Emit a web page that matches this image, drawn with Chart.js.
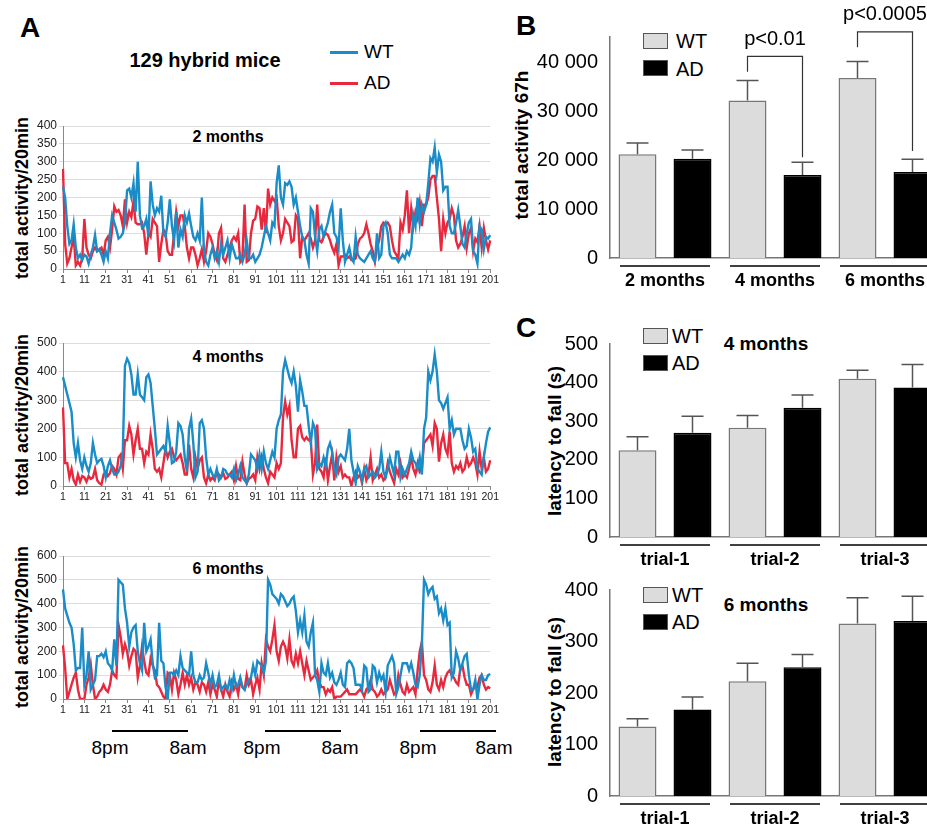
<!DOCTYPE html>
<html>
<head>
<meta charset="utf-8">
<script src="https://cdn.jsdelivr.net/npm/chart.js@4.4.1/dist/chart.umd.min.js"></script>
<style>
  html, body { margin: 0; padding: 0; background: #fff; overflow: hidden; }
  body { width: 927px; height: 832px; position: relative; font-family: 'Liberation Sans', Arial, sans-serif; }
  canvas { position: absolute; }
  .t { position: absolute; white-space: nowrap; color: #000; }
  .b { font-weight: bold; }
  .rot { transform: translate(-50%, -50%) rotate(-90deg); font-weight: bold; font-size: 17px; }
  .c { transform: translate(-50%, -50%); }
  .box { position: absolute; width: 25px; height: 16px; box-sizing: border-box; border: 1px solid #555; }
  .hl { position: absolute; height: 1.5px; background: #000; }
  .narrow { font-family: 'Liberation Sans Narrow', 'Liberation Sans', Arial, sans-serif; }
</style>
</head>
<body>
<div class="t b" style="left:20px;top:12px;font-size:28px;">A</div>
<div class="t b c" style="left:205px;top:60px;font-size:20px;">129 hybrid mice</div>
<div class="hl" style="left:330px;top:51px;width:28px;height:3px;background:#1a8cc8"></div>
<div class="t" style="left:364px;top:41px;font-size:19px;">WT</div>
<div class="hl" style="left:330px;top:82px;width:28px;height:3px;background:#e8293d"></div>
<div class="t" style="left:364px;top:72px;font-size:19px;">AD</div>

<div class="t rot" style="left:22px;top:198px;font-size:18px;">total activity/20min</div>
<div class="t rot" style="left:22px;top:415px;font-size:18px;">total activity/20min</div>
<div class="t rot" style="left:22px;top:627px;font-size:18px;">total activity/20min</div>
<div class="t b c" style="left:228px;top:137px;font-size:16px;">2 months</div>
<div class="t b c" style="left:228px;top:357px;font-size:16px;">4 months</div>
<div class="t b c" style="left:228px;top:569px;font-size:16px;">6 months</div>

<div class="hl" style="left:112px;top:730px;width:76px;"></div>
<div class="hl" style="left:265px;top:730px;width:76px;"></div>
<div class="hl" style="left:420px;top:730px;width:76px;"></div>
<div class="t c narrow" style="left:110px;top:748px;font-size:19px;">8pm</div>
<div class="t c narrow" style="left:188px;top:748px;font-size:19px;">8am</div>
<div class="t c narrow" style="left:262px;top:748px;font-size:19px;">8pm</div>
<div class="t c narrow" style="left:340px;top:748px;font-size:19px;">8am</div>
<div class="t c narrow" style="left:418px;top:748px;font-size:19px;">8pm</div>
<div class="t c narrow" style="left:494px;top:748px;font-size:19px;">8am</div>

<div class="t b" style="left:516px;top:10px;font-size:28px;">B</div>
<div class="t rot" style="left:522px;top:145px;font-size:19px;">total activity 67h</div>
<div class="box" style="left:643px;top:33px;background:#dcdcdc"></div>
<div class="t narrow" style="left:676px;top:30px;font-size:20px;">WT</div>
<div class="box" style="left:643px;top:60px;background:#000"></div>
<div class="t narrow" style="left:676px;top:58px;font-size:20px;">AD</div>

<div class="t b" style="left:516px;top:312px;font-size:28px;">C</div>
<div class="t rot" style="left:555px;top:441px;font-size:19px;">latency to fall (s)</div>
<div class="box" style="left:643px;top:328px;background:#dcdcdc"></div>
<div class="t narrow" style="left:672px;top:325px;font-size:20px;">WT</div>
<div class="box" style="left:643px;top:355px;background:#000"></div>
<div class="t narrow" style="left:672px;top:352px;font-size:20px;">AD</div>
<div class="t b c narrow" style="left:766px;top:344px;font-size:19px;">4 months</div>

<div class="t rot" style="left:555px;top:692px;font-size:19px;">latency to fall (s)</div>
<div class="box" style="left:643px;top:587px;background:#dcdcdc"></div>
<div class="t narrow" style="left:672px;top:584px;font-size:20px;">WT</div>
<div class="box" style="left:643px;top:614px;background:#000"></div>
<div class="t narrow" style="left:672px;top:611px;font-size:20px;">AD</div>
<div class="t b c narrow" style="left:766px;top:605px;font-size:19px;">6 months</div>

<canvas id="a1" style="left:0;top:110px;width:500px;height:179px"></canvas>
<canvas id="a2" style="left:0;top:330px;width:500px;height:176px"></canvas>
<canvas id="a3" style="left:0;top:540px;width:500px;height:179px"></canvas>
<canvas id="b1" style="left:510px;top:0;width:430px;height:294px"></canvas>
<canvas id="c1" style="left:510px;top:310px;width:430px;height:263px"></canvas>
<canvas id="c2" style="left:510px;top:570px;width:430px;height:262px"></canvas>

<script>
// ---- data: activity per 20 min, points 1..201
const wt2 = [230,200,120,70,80,125,60,30,40,25, 40,35,15,40,60,95,50,55,40,20, 50,30,100,150,130,110,85,90,100,130,
  220,225,200,240,160,300,150,115,120,140, 90,245,180,150,170,160,205,100,90,130, 195,120,80,160,60,110,90,150,130,155,
  120,90,80,100,80,200,50,20,10,40, 60,30,50,20,70,40,60,80,30,70, 50,30,30,40,20,40,80,30,30,40,
  20,30,40,60,90,120,100,80,130,120, 240,290,200,180,240,235,245,230,180,200, 160,120,90,80,40,15,170,160,90,50,
  110,120,90,110,130,160,180,100,90,60, 170,80,20,40,60,30,20,90,40,30, 25,20,30,40,50,30,20,100,30,40,
  120,130,100,40,30,30,30,20,30,40, 30,50,40,60,150,120,200,130,180,160, 180,240,310,300,340,270,320,300,220,230,
  230,120,100,100,130,165,120,70,60,100, 130,140,50,40,15,120,110,55,90,85,95]
const ad2 = [280,70,15,30,60,90,10,20,10,30, 140,60,40,30,50,60,50,55,60,40, 80,90,60,110,175,160,165,150,120,195,
  130,160,145,190,130,125,125,130,100,40, 100,90,140,130,120,20,70,110,100,50, 40,40,100,160,120,150,150,120,60,30,
  60,60,40,10,30,55,20,50,100,90, 70,40,25,100,115,30,20,40,60,80, 90,80,100,20,30,180,20,25,100,135,
  140,175,170,110,170,100,225,180,200,190, 200,120,80,100,140,130,120,75,80,150, 140,30,90,80,90,100,85,60,80,180,
  80,75,90,100,95,80,60,45,70,10, 35,35,40,30,35,25,25,30,70,85, 90,100,125,100,70,50,20,60,80,120,
  130,125,130,120,80,50,40,30,130,110, 150,220,100,170,120,160,140,185,120,180, 180,200,250,260,260,200,140,50,140,100,
  130,140,170,150,80,60,70,90,120,60, 100,115,50,85,75,120,60,115,80,55,80]
const wt4 = [380,350,320,290,260,150,100,150,90,60, 100,70,50,80,150,110,80,90,95,70, 30,70,90,60,40,40,50,70,120,420,
  445,430,390,320,320,390,320,310,300,380, 390,360,280,200,110,120,130,140,120,210, 150,80,85,120,220,210,180,100,50,200,
  235,150,30,50,220,230,200,100,40,60, 40,30,60,20,30,60,55,40,40,30, 60,20,40,70,30,20,10,40,110,100,
  90,60,110,60,120,80,60,90,120,100, 200,230,250,400,440,410,380,360,400,350, 260,370,330,280,280,210,150,220,200,60,
  80,70,100,70,130,150,120,60,40,100, 110,100,90,130,200,90,50,10,70,50, 20,60,70,30,40,50,30,40,60,120,
  50,30,60,100,70,40,120,120,30,60, 40,60,80,120,90,80,60,100,40,200, 240,400,370,400,460,400,300,290,270,290,
  310,200,230,180,200,200,200,160,130,140, 200,170,120,130,60,50,40,100,150,190,205]
const ad4 = [275,80,80,30,60,20,5,40,15,35, 30,15,35,25,30,60,20,10,5,40, 50,35,45,70,60,40,100,110,60,160,
  160,210,180,110,160,200,130,130,80,120, 110,180,130,60,50,60,30,80,130,100, 120,130,100,90,100,110,80,40,40,145,
  60,30,100,60,90,100,30,10,40,20, 30,20,50,40,30,45,25,30,40,50, 20,70,25,20,85,40,10,25,30,40,
  20,100,60,100,60,30,10,50,40,30, 80,60,80,240,295,250,280,160,100,100, 200,210,170,160,170,160,160,40,80,215,
  60,50,30,100,20,70,110,20,100,50, 70,30,40,30,30,0,30,50,30,40, 10,60,20,40,100,20,40,60,30,40,
  20,30,80,50,30,10,60,40,80,30, 40,30,60,100,60,40,80,50,60,150, 160,170,180,140,220,200,85,150,180,130,
  110,190,80,50,70,60,80,50,60,100, 70,80,100,80,40,120,60,100,50,60,90]
const wt6 = [460,380,350,320,300,230,120,130,130,300, 60,100,200,40,60,80,180,180,190,175, 200,150,140,120,250,140,500,490,480,380,
  320,220,280,300,310,200,150,120,320,200, 220,250,150,90,100,320,160,150,50,0, 110,110,100,120,100,180,130,120,110,100,
  200,100,70,70,100,80,90,150,110,60, 100,50,60,100,40,50,60,40,80,40, 100,50,60,90,50,40,60,80,90,140,
  100,160,150,140,110,160,500,480,440,430, 420,400,440,430,410,390,400,420,430,370, 280,330,280,350,240,220,280,320,100,80,
  30,150,110,100,150,90,110,70,60,80, 110,60,50,150,160,150,130,60,60,60, 40,140,130,30,40,140,130,70,110,80,
  100,30,140,160,180,150,20,50,100,150, 150,150,120,150,110,60,50,100,230,500, 480,440,460,470,420,430,360,380,330,380,
  310,320,90,110,200,170,120,150,180,190, 100,40,40,80,0,60,100,80,80,100,105]
const ad6 = [225,130,0,30,60,90,110,40,0,0, 0,60,90,145,60,0,10,30,40,60, 40,30,60,120,100,90,310,260,190,230,
  200,140,180,210,200,90,140,220,160,110, 100,170,140,120,60,50,30,10,0,110, 100,40,110,80,20,60,110,60,100,60,
  90,40,70,60,30,70,60,30,70,20, 60,40,10,80,40,10,60,30,10,70, 40,60,20,80,50,40,100,60,80,20,
  60,90,40,150,100,250,220,200,250,310, 200,160,220,240,220,170,250,160,140,190, 150,200,150,100,160,120,80,90,100,120,
  70,50,50,20,40,30,50,0,10,10, 10,20,30,40,20,20,20,20,30,40, 30,10,40,50,80,40,30,10,20,40,
  20,30,40,80,50,20,30,100,60,30, 20,60,30,40,50,20,120,200,240,100, 80,40,30,70,140,60,40,80,50,90,
  110,120,100,90,70,60,130,140,90,60, 60,20,40,60,50,90,100,60,40,50,45]

// ---- bar data
const monthCats = ['2 months', '4 months', '6 months']
const actWT = [21200, 32200, 36800]
const actWTerr = [23500, 36300, 40200]
const actAD = [20300, 17000, 17600]
const actADerr = [22100, 19600, 20200]
const actTicks = [0, 10000, 20000, 30000, 40000]
const pLabels = ['p<0.01', 'p<0.0005']
const pCats = [1, 2]
const pTop = [41250, 46250]
const pLeftEnd = [38100, 43100]
const pRightEnd = [20600, 21900]
const pTextY = [44600, 49800]

const trialCats = ['trial-1', 'trial-2', 'trial-3']
const lat4WT = [225, 283, 410]
const lat4WTerr = [260, 315, 432]
const lat4AD = [270, 335, 387]
const lat4ADerr = [313, 368, 447]
const lat4Ticks = [0, 100, 200, 300, 400, 500]
const lat6WT = [135, 223, 335]
const lat6WTerr = [150, 258, 385]
const lat6AD = [168, 250, 340]
const lat6ADerr = [192, 275, 388]
const lat6Ticks = [0, 100, 200, 300, 400]

const xLabels = wt2.map((_, i) => String(i + 1))
const BLUE = '#1a8cc8'
const RED = '#e8293d'
const NARROW = "'Liberation Sans Narrow', 'Liberation Sans', Arial, sans-serif"

function lineChart(id, wt, ad, max, step, padTop) {
  new Chart(document.getElementById(id), {
    type: 'line',
    data: {
      labels: xLabels,
      datasets: [
        { data: wt, borderColor: BLUE, borderWidth: 2.4, pointRadius: 0, tension: 0 },
        { data: ad, borderColor: RED, borderWidth: 2.4, pointRadius: 0, tension: 0 },
      ],
    },
    options: {
      responsive: false,
      animation: false,
      layout: { padding: { top: padTop, right: 6, left: 0, bottom: 0 } },
      plugins: { legend: { display: false }, tooltip: { enabled: false } },
      scales: {
        x: {
          offset: false,
          afterFit: (s) => { s.height = 20 },
          border: { color: '#888', width: 1 },
          grid: {
            drawOnChartArea: false,
            tickLength: 4,
            color: (c) => (c.index % 10 === 0 ? '#888' : 'transparent'),
          },
          ticks: {
            autoSkip: false,
            maxRotation: 0,
            padding: 1,
            color: '#222',
            font: { family: NARROW, size: 10.5 },
            callback: (v, i) => (i % 10 === 0 ? xLabels[i] : ''),
          },
        },
        y: {
          min: 0,
          max: max,
          afterFit: (s) => { s.width = 63 },
          border: { color: '#888', width: 1 },
          grid: { color: '#dcdcdc', tickLength: 4, lineWidth: 1 },
          ticks: { stepSize: step, padding: 2, color: '#222', font: { family: NARROW, size: 12 } },
        },
      },
    },
  })
}

lineChart('a1', wt2, ad2, 400, 50, 16)
lineChart('a2', wt4, ad4, 500, 100, 13)
lineChart('a3', wt6, ad6, 600, 100, 16)

// error bars (upper only), category underline segments, significance brackets
const barExtras = {
  id: 'barExtras',
  afterDatasetsDraw(chart) {
    const { ctx, scales } = chart
    ctx.save()
    ctx.strokeStyle = '#555'
    ctx.lineWidth = 1.5
    chart.data.datasets.forEach((ds, di) => {
      chart.getDatasetMeta(di).data.forEach((el, i) => {
        const top = scales.y.getPixelForValue(ds.err[i])
        ctx.beginPath()
        ctx.moveTo(el.x, el.y)
        ctx.lineTo(el.x, top)
        ctx.moveTo(el.x - 11, top)
        ctx.lineTo(el.x + 11, top)
        ctx.stroke()
      })
    })
    ctx.strokeStyle = '#000'
    const yy = chart.chartArea.bottom + 8
    chart.data.labels.forEach((_, i) => {
      const cx = scales.x.getPixelForValue(i)
      ctx.beginPath()
      ctx.moveTo(cx - 45, yy)
      ctx.lineTo(cx + 45, yy)
      ctx.stroke()
    })
    const br = chart.options.plugins.brackets
    if (br) {
      const m0 = chart.getDatasetMeta(0).data
      const m1 = chart.getDatasetMeta(1).data
      ctx.strokeStyle = '#333'
      ctx.lineWidth = 1.2
      br.cats.forEach((c, k) => {
        const xl = m0[c].x, xr = m1[c].x
        const yt = scales.y.getPixelForValue(br.top[k])
        ctx.beginPath()
        ctx.moveTo(xl, scales.y.getPixelForValue(br.left[k]))
        ctx.lineTo(xl, yt)
        ctx.lineTo(xr, yt)
        ctx.lineTo(xr, scales.y.getPixelForValue(br.right[k]))
        ctx.stroke()
        ctx.fillStyle = '#000'
        ctx.font = '20px ' + NARROW
        ctx.textAlign = 'center'
        ctx.textBaseline = 'middle'
        ctx.fillText(br.labels[k], (xl + xr) / 2, scales.y.getPixelForValue(br.text[k]))
      })
    }
    ctx.restore()
  },
}

function barChart(id, cats, wt, wtErr, ad, adErr, max, tickVals, padTop, fmt, brackets) {
  new Chart(document.getElementById(id), {
    type: 'bar',
    data: {
      labels: cats,
      datasets: [
        { data: wt, err: wtErr, backgroundColor: '#dcdcdc', borderColor: '#777', borderWidth: 1.5 },
        { data: ad, err: adErr, backgroundColor: '#000', borderColor: '#000', borderWidth: 1.5 },
      ],
    },
    plugins: [barExtras],
    options: {
      responsive: false,
      animation: false,
      categoryPercentage: 1,
      barPercentage: 0.69,
      layout: { padding: { top: padTop, right: 0, left: 0, bottom: 0 } },
      plugins: { legend: { display: false }, tooltip: { enabled: false }, brackets: brackets },
      scales: {
        x: {
          afterFit: (s) => { s.height = 36 },
          border: { color: '#777', width: 1.5 },
          grid: { display: false },
          ticks: { padding: 4, color: '#000', font: { family: NARROW, size: 18, weight: 'bold' } },
        },
        y: {
          min: 0,
          max: max,
          afterFit: (s) => { s.width = 100 },
          afterBuildTicks: (s) => { s.ticks = tickVals.map((v) => ({ value: v })) },
          border: { color: '#777', width: 1.5 },
          grid: { display: false },
          ticks: {
            autoSkip: false,
            padding: 4,
            color: '#000',
            font: { family: NARROW, size: 20 },
            callback: (v) => fmt(v),
          },
        },
      },
    },
  })
}

const spaced = (v) => String(v).replace(/\B(?=(\d{3})+(?!\d))/g, ' ')
barChart('b1', monthCats, actWT, actWTerr, actAD, actADerr, 45200, actTicks, 37, spaced,
  { cats: pCats, top: pTop, left: pLeftEnd, right: pRightEnd, text: pTextY, labels: pLabels })
barChart('c1', trialCats, lat4WT, lat4WTerr, lat4AD, lat4ADerr, 500, lat4Ticks, 34, String, null)
barChart('c2', trialCats, lat6WT, lat6WTerr, lat6AD, lat6ADerr, 400, lat6Ticks, 20, String, null)
</script>
</body>
</html>
